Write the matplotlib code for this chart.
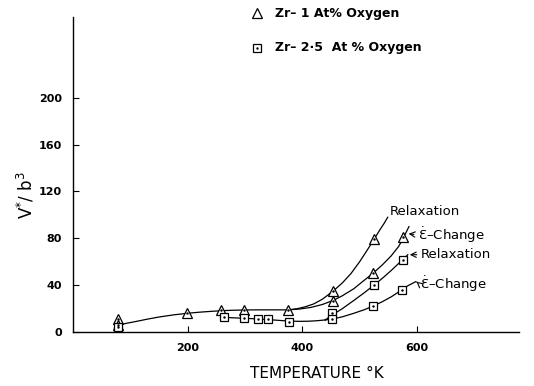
import matplotlib
matplotlib.use("Agg")
import matplotlib.pyplot as plt

# ---- data ----
# Zr - 1 at% oxygen (triangles)
t1_T = [78, 78, 198, 259, 298, 375, 454, 454, 525, 523, 576]
t1_V = [11, 6, 16, 18.8, 18.8, 18.8, 35.3, 26.5, 79, 50, 81]
# Zr - 2.5 at% oxygen (squares)
t2_T = [79, 263, 299, 323, 341, 377, 452, 452, 525, 524, 575, 574]
t2_V = [4.6, 12.5, 11.7, 10.8, 10.8, 8.8, 16.5, 10.8, 40.2, 22.2, 61.5, 35.9]

# hand-drawn fit curves
c_low_T = [80, 95, 110, 130, 150, 175, 200, 220, 240, 260, 280, 300, 320, 350, 375]
c_low_V = [6, 7.6, 9, 11, 12.8, 14.6, 16, 16.9, 17.6, 18.2, 18.6, 18.8, 18.9, 18.9, 18.9]
c_t_relax_T = [375, 390, 405, 420, 435, 454, 470, 485, 500, 512, 525, 535, 543, 549]
c_t_relax_V = [18.9, 19.8, 21.5, 24, 28, 35, 42, 50, 60, 69, 79, 87, 93, 98]
c_t_edot_T = [375, 395, 415, 435, 454, 470, 490, 505, 523, 540, 555, 568, 576, 586]
c_t_edot_V = [18.9, 19.6, 21, 23.5, 27, 31, 37, 43, 50, 57.5, 65, 73, 80, 90]
c_sq_T = [263, 280, 300, 320, 340, 360, 377, 395, 410, 425, 440]
c_sq_V = [12.5, 12.1, 11.7, 11.2, 10.6, 9.9, 9.3, 9.1, 9.2, 9.6, 10.3]
c_s_relax_T = [440, 452, 470, 490, 508, 525, 540, 555, 568, 575, 584]
c_s_relax_V = [10.3, 14.5, 20, 27, 33.5, 40, 46, 52.5, 58.5, 61.5, 66]
c_s_edot_T = [440, 452, 470, 490, 508, 524, 540, 555, 566, 574, 584, 592, 598]
c_s_edot_V = [10.3, 11, 13, 16, 19, 22.2, 26, 30, 33.5, 36, 39.5, 41.5, 43]

x_ticks = [200, 400, 600]
y_ticks = [0, 40, 80, 120, 160, 200]

fig = plt.figure(figsize=(5.34, 3.86), dpi=100)
ax = fig.add_axes([73 / 534, 54 / 386, 446 / 534, 315 / 386])
ax.set_xlim(0, 778)
ax.set_ylim(0, 269)

lw = 0.9
for T, V in [(c_low_T, c_low_V), (c_t_relax_T, c_t_relax_V), (c_t_edot_T, c_t_edot_V),
             (c_sq_T, c_sq_V), (c_s_relax_T, c_s_relax_V), (c_s_edot_T, c_s_edot_V)]:
    ax.plot(T, V, color="black", lw=lw, zorder=2, solid_joinstyle="round")

ax.plot(t1_T, t1_V, linestyle="none", marker="^", ms=6.5, mfc="white", mec="black", mew=0.9, zorder=3)
ax.plot(t1_T, t1_V, linestyle="none", marker=".", ms=1.5, color="black", zorder=4)
ax.plot(t2_T, t2_V, linestyle="none", marker="s", ms=5.5, mfc="white", mec="black", mew=0.9, zorder=3)
ax.plot(t2_T, t2_V, linestyle="none", marker=".", ms=1.5, color="black", zorder=4)

# labels with connector arrows
edot = r"$\dot{\mathregular{Ɛ}}$–Change"
lab_font = dict(fontsize=9.5, family="DejaVu Sans", va="center", ha="left")
arr = dict(arrowstyle="->", lw=0.8, color="black", shrinkA=1, shrinkB=1, relpos=(0, 0.5))
ax.text(553, 102.5, "Relaxation", **lab_font)
ax.annotate(edot, xy=(583, 84), xytext=(602, 83), arrowprops=arr, **lab_font)
ax.annotate("Relaxation", xy=(585, 66), xytext=(607, 66), arrowprops=arr, **lab_font)
ax.annotate(edot, xy=(599, 43), xytext=(605, 40.5), arrowprops=arr, **lab_font)

for s in ["top", "right"]:
    ax.spines[s].set_visible(False)
for s in ["left", "bottom"]:
    ax.spines[s].set_linewidth(1.0)

ax.set_xticks(x_ticks)
ax.set_yticks(y_ticks)
ax.set_xticklabels([str(v) for v in x_ticks], fontsize=8, fontweight="bold")
ax.set_yticklabels([str(v) for v in y_ticks], fontsize=8, fontweight="bold")
ax.tick_params(direction="in", length=4, width=0.8, pad=8)

fig.text(317 / 534, 1 - 373 / 386, "TEMPERATURE °K", fontsize=11, ha="center", va="center")
fig.text(26 / 534, 1 - 195 / 386, r"V$^{*}$/ b$^{3}$", fontsize=12, rotation=90, ha="center", va="center")

# legend (above the plot, drawn in figure coords)
fig.lines.append(plt.Line2D([257 / 534], [1 - 13 / 386], marker="^", ms=6.5, mfc="white", mec="black",
                            mew=0.9, linestyle="none", transform=fig.transFigure))
fig.lines.append(plt.Line2D([257 / 534], [1 - 48 / 386], marker="s", ms=5.5, mfc="white", mec="black",
                            mew=0.9, linestyle="none", transform=fig.transFigure))
fig.lines.append(plt.Line2D([257 / 534], [1 - 48 / 386], marker=".", ms=1.5, color="black",
                            linestyle="none", transform=fig.transFigure))
fig.text(275 / 534, 1 - 13 / 386, "Zr– 1 At% Oxygen", fontsize=9, fontweight="bold", va="center", ha="left")
fig.text(275 / 534, 1 - 48 / 386, "Zr– 2·5  At % Oxygen", fontsize=9, fontweight="bold", va="center", ha="left")

fig.savefig("out.png", dpi=100)
